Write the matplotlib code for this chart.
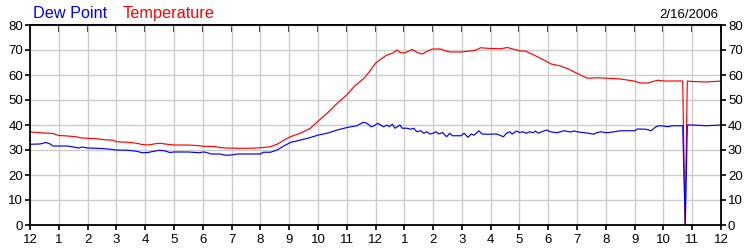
import matplotlib
matplotlib.use("Agg")
import matplotlib.pyplot as plt

plt.rcParams['font.family'] = ['Liberation Sans', 'DejaVu Sans']

# hours since midnight, temperature (F)
temp_hours = [0, 0.3, 0.5, 0.8, 1.0, 1.3, 1.6, 1.8, 2.0, 2.3, 2.6, 2.9, 3.0, 3.4, 3.7, 3.9,
              4.1, 4.3, 4.5, 4.7, 5.0, 5.5, 5.9, 6.0, 6.4, 6.6, 6.8, 7.2, 7.65, 8.0, 8.35,
              8.6, 8.8, 9.04, 9.39, 9.74, 10.0, 10.32, 10.67, 11.0, 11.25, 11.6, 11.8, 12.0,
              12.2, 12.4, 12.6, 12.75, 12.85, 13.0, 13.27, 13.45, 13.62, 13.8, 13.97, 14.26,
              14.45, 14.6, 14.96, 15.3, 15.5, 15.65, 16.0, 16.35, 16.58, 16.8, 17.04, 17.2,
              17.5, 17.85, 18.1, 18.4, 18.7, 19.01, 19.36, 19.7, 20.06, 20.5, 20.98, 21.2,
              21.45, 21.8, 22.03, 22.67, 22.75, 22.83, 23.0, 23.5, 24.0]
temperature = [37.2, 37.0, 36.8, 36.6, 35.8, 35.6, 35.3, 34.8, 34.7, 34.5, 34.1, 33.9, 33.3,
               33.1, 32.7, 32.2, 32.0, 32.4, 32.7, 32.4, 32.0, 32.0, 31.7, 31.5, 31.4, 31.0,
               30.8, 30.7, 30.7, 30.9, 31.3, 32.4, 33.8, 35.3, 36.7, 38.7, 41.5, 44.7, 48.7,
               52.0, 55.3, 58.7, 61.5, 64.7, 66.5, 68.0, 68.8, 70.0, 69.0, 68.8, 70.2, 69.0,
               68.4, 69.5, 70.4, 70.4, 69.6, 69.2, 69.2, 69.6, 70.0, 70.9, 70.6, 70.5, 71.0,
               70.3, 69.6, 69.6, 68.0, 66.0, 64.4, 63.7, 62.4, 60.6, 58.7, 58.9, 58.7, 58.4,
               57.6, 56.8, 56.8, 57.9, 57.6, 57.6, 0.0, 57.6, 57.4, 57.2, 57.6]

# hours since midnight, dew point (F)
dew_hours = [0, 0.35, 0.55, 0.7, 0.8, 1.0, 1.3, 1.5, 1.7, 1.8, 2.0, 2.5, 2.8, 3.0, 3.4, 3.7,
             3.9, 4.1, 4.3, 4.5, 4.7, 4.85, 5.0, 5.5, 5.9, 6.0, 6.1, 6.3, 6.6, 6.8, 7.0, 7.2,
             7.65, 8.0, 8.1, 8.35, 8.58, 8.8, 9.04, 9.4, 9.74, 10.02, 10.32, 10.67, 11.01,
             11.36, 11.57, 11.7, 11.85, 11.95, 12.08, 12.18, 12.28, 12.4, 12.48, 12.58, 12.68,
             12.85, 12.93, 13.1, 13.22, 13.33, 13.43, 13.57, 13.68, 13.78, 13.89, 14.0, 14.1,
             14.2, 14.33, 14.47, 14.58, 14.67, 14.96, 15.08, 15.21, 15.33, 15.42, 15.5, 15.59,
             15.7, 15.9, 16.2, 16.3, 16.44, 16.55, 16.66, 16.75, 16.9, 17.0, 17.12, 17.23,
             17.36, 17.47, 17.56, 17.65, 17.77, 17.95, 18.07, 18.3, 18.42, 18.55, 18.78, 18.9,
             19.0, 19.2, 19.4, 19.57, 19.7, 19.85, 20.0, 20.1, 20.3, 20.5, 21.0, 21.1, 21.4,
             21.57, 21.74, 21.85, 22.0, 22.15, 22.3, 22.67, 22.76, 22.83, 23.0, 23.5, 24.0]
dew_point = [32.3, 32.4, 33.0, 32.4, 31.6, 31.6, 31.6, 31.2, 30.8, 31.2, 30.8, 30.6, 30.3, 30.0,
             29.9, 29.5, 28.9, 29.0, 29.5, 29.9, 29.6, 29.0, 29.2, 29.2, 28.9, 29.2, 29.1, 28.4,
             28.4, 27.9, 28.0, 28.4, 28.4, 28.4, 29.1, 29.1, 30.0, 31.5, 33.0, 34.0, 35.0, 36.0,
             36.7, 38.0, 39.0, 39.7, 41.1, 40.7, 39.3, 39.7, 40.7, 40.0, 39.3, 40.0, 39.3, 40.3,
             38.7, 40.0, 38.7, 38.7, 38.3, 38.7, 37.3, 37.7, 36.7, 37.3, 36.4, 36.7, 37.3, 36.4,
             37.0, 35.3, 36.7, 35.7, 35.7, 36.7, 35.1, 36.4, 35.9, 36.7, 37.7, 36.4, 36.3, 36.4,
             36.0, 35.3, 36.7, 37.3, 36.4, 37.6, 37.0, 37.3, 36.7, 37.3, 36.9, 37.6, 36.7, 37.3,
             38.0, 37.3, 36.9, 37.3, 37.7, 37.2, 37.6, 37.3, 37.0, 36.7, 36.3, 37.0, 37.3, 36.9,
             37.0, 37.3, 37.7, 37.7, 38.4, 38.3, 37.7, 39.3, 39.7, 39.6, 39.3, 39.7, 39.7, 0.0,
             40.0, 40.0, 39.7, 40.0]

x_tick_labels = ['12', '1', '2', '3', '4', '5', '6', '7', '8', '9', '10', '11',
                 '12', '1', '2', '3', '4', '5', '6', '7', '8', '9', '10', '11', '12']
y_ticks = [0, 10, 20, 30, 40, 50, 60, 70, 80]
date_label = '2/16/2006'

fig = plt.figure(figsize=(7.5, 2.5), dpi=100)
ax = fig.add_axes([30/750, 25/250, 691/750, 200/250])

ax.plot(temp_hours, temperature, color='#ff0000', lw=0.85)
ax.plot(dew_hours, dew_point, color='#0000ff', lw=0.85)

ax.set_xlim(0, 24)
ax.set_ylim(0, 80)
ax.set_xticks(range(25))
ax.set_xticklabels(x_tick_labels)
ax.set_yticks(y_ticks)
ax.grid(True, color='#cccccc', lw=1.0)
ax.set_axisbelow(True)

for s in ax.spines.values():
    s.set_linewidth(1.3)
    s.set_color('black')

ax.tick_params(axis='x', which='major', direction='out', length=3.5, width=1.2,
               pad=3, labelsize=9.5, bottom=True, top=False)
ax.tick_params(axis='y', which='major', direction='out', length=3.5, width=1.2,
               pad=1.5, labelsize=9.5, left=True, right=True, labelleft=True, labelright=True)

# top inward ticks
axt = ax.secondary_xaxis('top')
axt.set_xticks(range(25))
axt.tick_params(direction='in', length=5, width=1.2, labeltop=False)
axt.spines['top'].set_linewidth(1.3)

fig.text(33/750, 1 - 18/250, 'Dew Point', color='#0000ff', fontsize=11.7, va='baseline', ha='left')
fig.text(123/750, 1 - 18/250, 'Temperature', color='#ff0000', fontsize=11.7, va='baseline', ha='left')
fig.text(718/750, 1 - 17.5/250, date_label, color='black', fontsize=9.5, va='baseline', ha='right')

fig.savefig('out.png', dpi=100)
